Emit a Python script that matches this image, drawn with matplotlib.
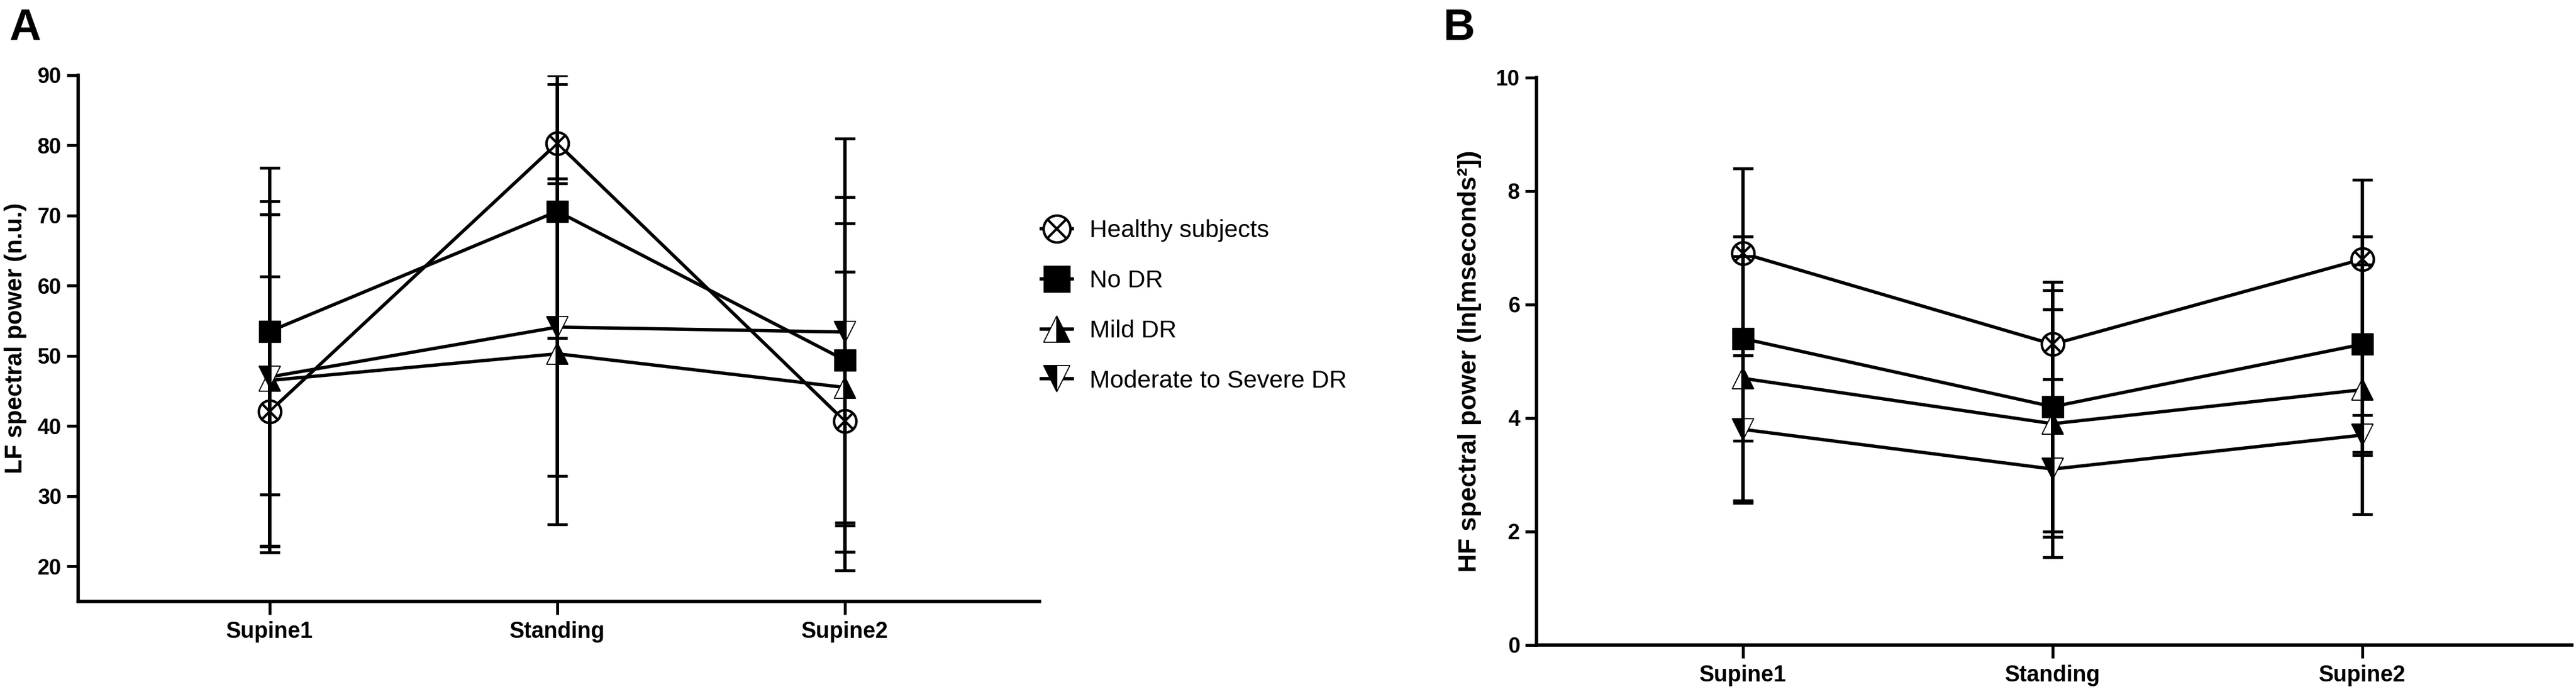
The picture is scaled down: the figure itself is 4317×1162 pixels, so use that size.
import matplotlib.pyplot as plt
from matplotlib.lines import Line2D
import numpy as np

plt.rcParams['font.family'] = ['Liberation Sans', 'DejaVu Sans']
plt.rcParams['font.weight'] = 'bold'

# ===== DATA =====
conditions = ["Supine1", "Standing", "Supine2"]
groups = ["Healthy subjects", "No DR", "Mild DR", "Moderate to Severe DR"]

# panel A: LF spectral power (n.u.), mean and SD
lf_healthy = [42.1, 80.3, 40.7]
lf_healthy_sd = [19.2, 9.7, 21.3]
lf_nodr = [53.5, 70.6, 49.4]
lf_nodr_sd = [23.3, 18.1, 23.2]
lf_mild = [46.5, 50.3, 45.5]
lf_mild_sd = [23.7, 24.3, 23.4]
lf_mod = [47.0, 54.1, 53.4]
lf_mod_sd = [25.0, 21.2, 27.6]

# panel B: HF spectral power (ln[ms^2]), mean and SD
hf_healthy = [6.9, 5.3, 6.8]
hf_healthy_sd = [1.5, 0.62, 1.4]
hf_nodr = [5.4, 4.2, 5.3]
hf_nodr_sd = [1.8, 2.2, 1.9]
hf_mild = [4.7, 3.9, 4.5]
hf_mild_sd = [2.15, 2.35, 2.2]
hf_mod = [3.8, 3.1, 3.7]
hf_mod_sd = [1.3, 1.2, 0.35]

lf_yticks = [20, 30, 40, 50, 60, 70, 80, 90]
hf_yticks = [0, 2, 4, 6, 8, 10]

# ===== STYLE =====
LW = 4
MS = 26
marker_styles = [
    dict(marker="o", ms=MS + 1, mfc="white", mec="black", mew=3),
    dict(marker="s", ms=MS, mfc="black", mec="black", mew=1),
    dict(marker="^", ms=MS, mfc="black", mfcalt="white", fillstyle="right",
         mec="black", mew=1.3),
    dict(marker="v", ms=MS, mfc="black", mfcalt="white", fillstyle="left",
         mec="black", mew=1.3),
]
cross_style = dict(marker="x", ms=(MS + 1) * 0.72, mec="black", mew=3)


def draw_panel(ax, means, sds, ylim, yticks, ylabel, label_size):
    x = np.arange(len(conditions))
    for m, s, st in zip(means, sds, marker_styles):
        ax.plot(x, m, color="black", lw=LW, zorder=2)
        ax.plot(x, m, linestyle="none", zorder=3, **st)
        if st["marker"] == "o":
            ax.plot(x, m, linestyle="none", zorder=3.5, **cross_style)
        ax.errorbar(x, m, yerr=s, fmt="none", ecolor="black",
                    elinewidth=LW, capsize=12.5, capthick=3.4, zorder=4)

    ax.set_xlim(-0.667, 2.677)
    ax.set_ylim(*ylim)
    ax.set_xticks(x)
    ax.set_xticklabels(conditions, fontsize=27, fontweight="bold")
    ax.set_yticks(yticks)
    ax.set_yticklabels([str(t) for t in yticks], fontsize=26, fontweight="bold")
    ax.tick_params(axis="y", length=14, width=3.5, pad=6)
    ax.tick_params(axis="x", length=16, width=3.5, pad=8)

    for side in ["top", "right"]:
        ax.spines[side].set_visible(False)
    for side in ["left", "bottom"]:
        ax.spines[side].set_linewidth(4)

    ax.set_ylabel(ylabel, fontsize=label_size, fontweight="bold")
    ax.yaxis.set_label_coords(-0.053, 0.5)


fig = plt.figure(figsize=(43.17, 11.62), dpi=100)
ax_a = fig.add_axes([0.0303, 0.1334, 0.3732, 0.7582])
ax_b = fig.add_axes([0.5965, 0.0706, 0.4019, 0.8176])

draw_panel(ax_a,
           [lf_healthy, lf_nodr, lf_mild, lf_mod],
           [lf_healthy_sd, lf_nodr_sd, lf_mild_sd, lf_mod_sd],
           (15, 90), lf_yticks, "LF spectral power (n.u.)", 29)
draw_panel(ax_b,
           [hf_healthy, hf_nodr, hf_mild, hf_mod],
           [hf_healthy_sd, hf_nodr_sd, hf_mild_sd, hf_mod_sd],
           (0, 10), hf_yticks, "HF spectral power (ln[mseconds²])", 31)

# ===== PANEL LETTERS =====
fig.text(15 / 4317, 1 - 67 / 1162, "A", fontsize=53, fontweight="bold",
         ha="left", va="baseline")
fig.text(2418 / 4317, 1 - 67 / 1162, "B", fontsize=53, fontweight="bold",
         ha="left", va="baseline")

# ===== LEGEND =====
handles = []
for st in marker_styles:
    h = Line2D([], [], color="black", lw=LW, **st)
    if st["marker"] == "o":
        h = (h, Line2D([], [], linestyle="none", **cross_style))
    handles.append(h)

fig.legend(handles, groups, loc="center left",
           bbox_to_anchor=(1745 / 4317, 650 / 1162),
           frameon=False, prop=dict(size=29.5, weight="normal"),
           handlelength=1.27, handletextpad=0.7, labelspacing=1.12,
           borderpad=0, borderaxespad=0, markerscale=1.2)

fig.savefig("out.png", dpi=100)
